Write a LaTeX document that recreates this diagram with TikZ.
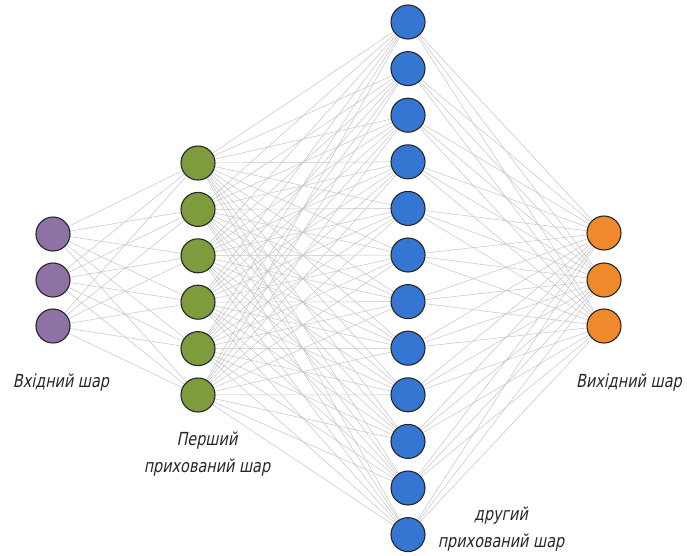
\documentclass[tikz,border=0pt]{standalone}
\usepackage{fontspec}
\usetikzlibrary{backgrounds}
\setmainfont{DejaVu Sans}
\newfontfamily\labfont{DejaVu Sans}[FakeStretch=0.80,FakeSlant=0.2]
\definecolor{inpc}{HTML}{8E72A6}
\definecolor{h1c}{HTML}{7E9B3E}
\definecolor{h2c}{HTML}{3576D3}
\definecolor{outc}{HTML}{EE8A2C}
\definecolor{edgec}{HTML}{C4C4C4}
\begin{document}
\begin{tikzpicture}[x=1pt,y=-1pt,
  neuron/.style={circle,draw=black!85,line width=1.1pt,minimum size=34pt,inner sep=0pt},
  conn/.style={draw=edgec,line width=0.5pt},
  lab/.style={font=\labfont\fontsize{18}{27}\selectfont,text=black!85,align=center}]
\useasboundingbox (0,0) rectangle (687,555);
% nodes
\foreach \i/\y in {1/234,2/280,3/326}
  \node[neuron,fill=inpc] (a\i) at (53,\y) {};
\foreach \i in {1,...,6}
  \node[neuron,fill=h1c] (b\i) at (198,{163+46.4*(\i-1)}) {};
\foreach \i in {1,...,12}
  \node[neuron,fill=h2c] (c\i) at (408,{22+46.6*(\i-1)}) {};
\foreach \i/\y in {1/233,2/280,3/326}
  \node[neuron,fill=outc] (d\i) at (604,\y) {};
% connectors
\begin{scope}[on background layer]
\foreach \i in {1,2,3}
  \foreach \j in {1,...,6}
    \path[conn] (a\i) -- (b\j);
\foreach \i in {1,...,6}
  \foreach \j in {1,...,12}
    \path[conn] (b\i) -- (c\j);
\foreach \i in {1,...,12}
  \foreach \j in {1,2,3}
    \path[conn] (c\i) -- (d\j);
\end{scope}
% labels
\node[lab] (l1) at (61,383) {Вхідний шар};
\node[lab] (l2) at (207,454) {Перший\\прихований шар};
\node[lab] (l3) at (501,529) {другий\\прихований шар};
\node[lab] (l4) at (629,383) {Вихідний шар};
\end{tikzpicture}
\end{document}
